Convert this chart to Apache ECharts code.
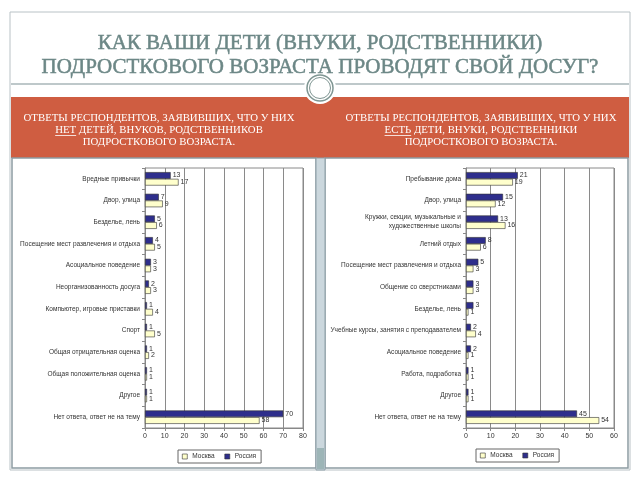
<!DOCTYPE html>
<html><head><meta charset="utf-8">
<script src="https://cdn.jsdelivr.net/npm/echarts@6/dist/echarts.min.js"></script>
<style>html,body{margin:0;padding:0;background:#fff}#c{width:640px;height:480px}</style>
</head><body><div id="c"></div>
<script>
const leftCategories = ['Вредные привычки','Двор, улица','Безделье, лень','Посещение мест развлечения и отдыха','Асоциальное поведение','Неорганизованность досуга','Компьютер, игровые приставки','Спорт','Общая отрицательная оценка','Общая положительная оценка','Другое','Нет ответа, ответ не на тему'];
const leftRussia = [13,7,5,4,3,2,1,1,1,1,1,70];
const leftMoscow = [17,9,6,5,3,3,4,5,2,1,1,58];
const leftMax = 80;

const rightCategories = ['Пребывание дома','Двор, улица','Кружки, секции, музыкальные и\nхудожественные школы','Летний отдых','Посещение мест развлечения и отдыха','Общение со сверстниками','Безделье, лень','Учебные курсы, занятия с преподавателем','Асоциальное поведение','Работа, подработка','Другое','Нет ответа, ответ не на тему'];
const rightRussia = [21,15,13,8,5,3,3,2,2,1,1,45];
const rightMoscow = [19,12,16,6,3,3,1,4,1,1,1,54];
const rightMax = 60;

const seriesNames = ['Москва','Россия'];

const titleLines = ['КАК ВАШИ ДЕТИ (ВНУКИ, РОДСТВЕННИКИ)','ПОДРОСТКОВОГО ВОЗРАСТА ПРОВОДЯТ СВОЙ ДОСУГ?'];
const leftHeader = ['ОТВЕТЫ РЕСПОНДЕНТОВ, ЗАЯВИВШИХ, ЧТО У НИХ','НЕТ',' ДЕТЕЙ, ВНУКОВ, РОДСТВЕННИКОВ','ПОДРОСТКОВОГО ВОЗРАСТА.'];
const rightHeader = ['ОТВЕТЫ РЕСПОНДЕНТОВ, ЗАЯВИВШИХ, ЧТО У НИХ','ЕСТЬ',' ДЕТИ, ВНУКИ, РОДСТВЕННИКИ','ПОДРОСТКОВОГО ВОЗРАСТА.'];

const cMoscow = '#ffffcc', cRussia = '#2e2e8c';
const orange = '#cf5d41';
const serif = 'Liberation Serif';
const sans = 'Liberation Sans';
const titleColor = '#6c8786';

const mctx = document.createElement('canvas').getContext('2d');
function tw(s, font){ mctx.font = font; return mctx.measureText(s).width; }

const hFont = '10.8px "' + serif + '"';
function headerGraphics(h, cx){
  const g = [];
  const ys = [118, 130, 142];
  g.push({type:'text', x:cx, y:ys[0], style:{text:h[0], font:hFont, fill:'#fff', textAlign:'center', textVerticalAlign:'middle'}});
  const full = h[1] + h[2];
  const w = tw(full, hFont), wu = tw(h[1], hFont);
  const sx = cx - w/2;
  g.push({type:'text', x:sx, y:ys[1], style:{text:full, font:hFont, fill:'#fff', textAlign:'left', textVerticalAlign:'middle'}});
  g.push({type:'line', shape:{x1:sx, y1:ys[1]+5.5, x2:sx+wu, y2:ys[1]+5.5}, style:{stroke:'#fff', lineWidth:0.8}});
  g.push({type:'text', x:cx, y:ys[2], style:{text:h[3], font:hFont, fill:'#fff', textAlign:'center', textVerticalAlign:'middle'}});
  return g;
}

const tFont = '21px "'+serif+'"';
const graphics = [
  {type:'rect', shape:{x:10, y:12, width:620, height:458}, style:{fill:'#fff', stroke:'#b9c2c6', lineWidth:1}, z:-10},
  {type:'line', shape:{x1:11, y1:84, x2:629, y2:84}, style:{stroke:'#a9b6b8', lineWidth:1.5}, z:-9},
  {type:'rect', shape:{x:11, y:97, width:618, height:61}, style:{fill:orange}, z:-9},
  {type:'circle', shape:{cx:320, cy:88, r:16}, style:{fill:'#fff', stroke:null}, z:-8},
  {type:'circle', shape:{cx:320, cy:88, r:13}, style:{fill:'#fff', stroke:'#7f9693', lineWidth:1.5}, z:-7},
  {type:'circle', shape:{cx:320, cy:88, r:10.5}, style:{fill:'#fff', stroke:'#7f9693', lineWidth:1}, z:-7},
  {type:'rect', shape:{x:12, y:158, width:304, height:310}, style:{fill:'#fff', stroke:'#8d9ca2', lineWidth:1.5}, z:-8},
  {type:'rect', shape:{x:325, y:158, width:303, height:310}, style:{fill:'#fff', stroke:'#8d9ca2', lineWidth:1.5}, z:-8},
  {type:'rect', shape:{x:316, y:158, width:9, height:312}, style:{fill:'#cbd7dd', stroke:'#8fa1a9', lineWidth:1}, z:-8},
  {type:'rect', shape:{x:317, y:448, width:7, height:21}, style:{fill:'#9db5b7'}, z:-7},
  {type:'text', x:320, y:43, style:{text:titleLines[0], font:tFont, fill:titleColor, stroke:titleColor, lineWidth:0.5, textAlign:'center', textVerticalAlign:'middle'}},
  {type:'text', x:320, y:67, style:{text:titleLines[1], font:tFont, fill:titleColor, stroke:titleColor, lineWidth:0.5, textAlign:'center', textVerticalAlign:'middle'}}
].concat(headerGraphics(leftHeader, 159)).concat(headerGraphics(rightHeader, 481));

function xAx(idx, max){
  return {gridIndex:idx, type:'value', min:0, max:max, interval:10,
    axisLine:{show:true, lineStyle:{color:'#888', width:1}},
    axisTick:{show:true, length:3, lineStyle:{color:'#888'}},
    axisLabel:{fontSize:7, color:'#333', fontFamily:sans, margin:5},
    splitLine:{show:true, lineStyle:{color:'#8a8a8a', width:1}}};
}
function yAx(idx, cats){
  return {gridIndex:idx, type:'category', data:cats, inverse:true,
    axisLine:{show:true, lineStyle:{color:'#888', width:1}},
    axisTick:{show:true, length:3, lineStyle:{color:'#888'}},
    axisLabel:{fontSize:6.5, color:'#333', fontFamily:sans, margin:5, lineHeight:9}};
}
function ser(name, idx, data, color){
  return {name:name, type:'bar', xAxisIndex:idx, yAxisIndex:idx, data:data,
    barGap:'0%', barCategoryGap:'38%',
    itemStyle:{color:color, borderColor:'#333', borderWidth:0.6},
    label:{show:true, position:'right', distance:2, fontSize:7, color:'#333', fontFamily:sans}};
}
function leg(left, top){
  return {left:left, top:top, orient:'horizontal', icon:'rect', itemWidth:5, itemHeight:5, itemGap:10,
    padding:[3,5,3,4], borderColor:'#666', borderWidth:1, backgroundColor:'#fff',
    textStyle:{fontSize:6.5, color:'#333', fontFamily:sans},
    data:[{name:seriesNames[0], itemStyle:{color:cMoscow, borderColor:'#333', borderWidth:0.6}},
          {name:seriesNames[1], itemStyle:{color:cRussia, borderColor:'#333', borderWidth:0.6}}]};
}

const chart = echarts.init(document.getElementById('c'), null, {renderer:'canvas'});
chart.setOption({
  animation:false,
  backgroundColor:'#fff',
  graphic:graphics,
  legend:[leg(178, 450), leg(476, 449)],
  grid:[{left:145, top:168, width:158, height:260, show:true, borderColor:'#8a8a8a', borderWidth:1, backgroundColor:'transparent'},
        {left:466, top:168, width:148, height:260, show:true, borderColor:'#8a8a8a', borderWidth:1, backgroundColor:'transparent'}],
  xAxis:[xAx(0, leftMax), xAx(1, rightMax)],
  yAxis:[yAx(0, leftCategories), yAx(1, rightCategories)],
  series:[ser(seriesNames[1], 0, leftRussia, cRussia), ser(seriesNames[0], 0, leftMoscow, cMoscow),
          ser(seriesNames[1], 1, rightRussia, cRussia), ser(seriesNames[0], 1, rightMoscow, cMoscow)]
});
</script></body></html>
